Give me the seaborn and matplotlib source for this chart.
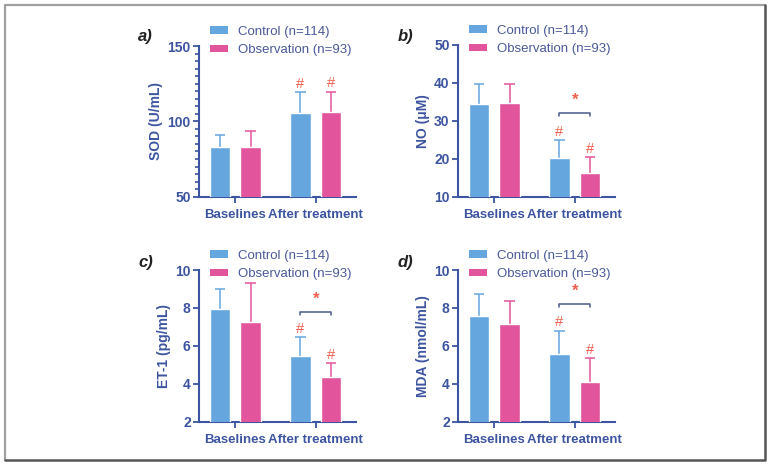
import numpy as np
import pandas as pd
import matplotlib.pyplot as plt
import seaborn as sns
from matplotlib.patches import Patch
from matplotlib.ticker import MultipleLocator
from matplotlib.lines import Line2D

groups = ["Baselines", "After treatment"]
series = ["Control (n=114)", "Observation (n=93)"]

# mean and upper SD per panel
sod_ctrl = [83.3, 105.6]
sod_ctrl_sd = [7.6, 13.7]
sod_obs = [82.7, 106.0]
sod_obs_sd = [10.9, 13.8]

no_ctrl = [34.3, 20.2]
no_ctrl_sd = [5.5, 4.6]
no_obs = [34.6, 16.1]
no_obs_sd = [5.0, 4.3]

et_ctrl = [7.92, 5.48]
et_ctrl_sd = [1.09, 0.98]
et_obs = [7.24, 4.37]
et_obs_sd = [2.1, 0.71]

mda_ctrl = [7.57, 5.59]
mda_ctrl_sd = [1.18, 1.21]
mda_obs = [7.14, 4.07]
mda_obs_sd = [1.22, 1.29]

ylabels = ["SOD (U/mL)", "NO (μM)", "ET-1 (pg/mL)", "MDA (nmol/mL)"]
letters = ["a)", "b)", "c)", "d)"]
ylims = [(50, 150), (10, 50), (2, 10), (2, 10)]
ystep = [50, 10, 2, 2]
bracket_y = [None, 32.1, 7.8, 8.22]

blue = "#66a6de"
pink = "#e2559c"
axcol = "#3d55a0"
red = "#f0604f"

sns.set_style("ticks")
plt.rcParams["font.family"] = ["Liberation Sans", "DejaVu Sans"]

fig = plt.figure(figsize=(7.7, 4.65), dpi=100)

panels = [
    (sod_ctrl, sod_ctrl_sd, sod_obs, sod_obs_sd),
    (no_ctrl, no_ctrl_sd, no_obs, no_obs_sd),
    (et_ctrl, et_ctrl_sd, et_obs, et_obs_sd),
    (mda_ctrl, mda_ctrl_sd, mda_obs, mda_obs_sd),
]
# axes boxes in pixels: left, top, bottom
boxes = [(199, 46, 196.7), (458, 45, 196.5), (199, 270, 421.7), (458, 270, 421.7)]
W, H = 770, 465
letter_pos = [(138, 37), (398, 37), (138, 262), (398, 262)]

for i, (ctrl, ctrl_sd, obs, obs_sd) in enumerate(panels):
    left, top, bottom = boxes[i]
    ax = fig.add_axes([left / W, 1 - bottom / H, 157 / W, (bottom - top) / H])

    df = pd.DataFrame({
        "group": groups * 2,
        "series": [series[0]] * 2 + [series[1]] * 2,
        "value": ctrl + obs,
    })
    sns.barplot(data=df, x="group", y="value", hue="series",
                palette=[blue, pink], width=0.76, gap=0.32,
                errorbar=None, legend=False, saturation=1, ax=ax, zorder=3)

    for cont, means, sds, col in zip(ax.containers, [ctrl, obs], [ctrl_sd, obs_sd], [blue, pink]):
        for j, bar in enumerate(cont):
            xc = bar.get_x() + bar.get_width() / 2
            top_v = means[j] + sds[j]
            ax.vlines(xc, means[j], top_v, color=col, lw=1.1, zorder=2)
            ax.hlines(top_v, xc - 0.065, xc + 0.065, color=col, lw=1.1, zorder=2)
            if j == 1:
                ax.annotate("#", (xc, top_v), xytext=(0, 1), textcoords="offset points",
                            ha="center", va="bottom", color=red, fontsize=10.5)

    if bracket_y[i] is not None:
        xa = ax.containers[0][1].get_x() + ax.containers[0][1].get_width() / 2
        xb = ax.containers[1][1].get_x() + ax.containers[1][1].get_width() / 2
        by = bracket_y[i]
        span = ylims[i][1] - ylims[i][0]
        ax.plot([xa, xa, xb, xb], [by - span * 0.02, by, by, by - span * 0.02],
                color="#4a5a8a", lw=1.1, zorder=4)
        ax.text((xa + xb) / 2, by + span * 0.03, "*", ha="center", va="bottom",
                color=red, fontsize=12, fontweight="bold")

    ax.set_xlim(-0.45, 1.5)
    ax.set_ylim(*ylims[i])
    ax.yaxis.set_major_locator(MultipleLocator(ystep[i]))
    if i == 0:
        ax.yaxis.set_minor_locator(MultipleLocator(5))
        ax.tick_params(axis="y", which="minor", length=3, width=1.2, color=axcol)
    sns.despine(ax=ax)
    for s in ["left", "bottom"]:
        ax.spines[s].set_color(axcol)
        ax.spines[s].set_linewidth(1.5)
    ax.tick_params(axis="both", which="major", length=4, width=1.3, color=axcol,
                   labelcolor=axcol, labelsize=10)
    ax.tick_params(axis="x", pad=5, labelsize=9.5)
    ax.tick_params(axis="y", pad=2)
    for lab in ax.get_xticklabels() + ax.get_yticklabels():
        lab.set_fontweight("bold")
    ax.set_xlabel("")
    ax.set_ylabel(ylabels[i], color=axcol, fontweight="bold", fontsize=10, labelpad=3)

    handles = [Patch(facecolor=blue, edgecolor="none"), Patch(facecolor=pink, edgecolor="none")]
    leg = ax.legend(handles, series, loc="upper left", bbox_to_anchor=(0.07, 1.135),
                    frameon=False, fontsize=9.5, handlelength=1.4, handleheight=0.5,
                    handletextpad=0.7, labelspacing=0.5, borderpad=0, borderaxespad=0)
    for t in leg.get_texts():
        t.set_color("#4a5a9a")

    lx, ly = letter_pos[i]
    fig.text(lx / W, 1 - ly / H, letters[i], fontsize=12, fontweight="bold",
             fontstyle="italic", color="#222222", va="center")

# outer frame
fig.add_artist(Line2D([5 / W, 5 / W, 765 / W], [1 - 460 / H, 1 - 5 / H, 1 - 5 / H],
                      color="#a0a0a0", lw=1.6, transform=fig.transFigure))
fig.add_artist(Line2D([5 / W, 765 / W, 765 / W], [1 - 460 / H, 1 - 460 / H, 1 - 5 / H],
                      color="#555555", lw=1.8, transform=fig.transFigure))

fig.savefig("out.png", dpi=100)
